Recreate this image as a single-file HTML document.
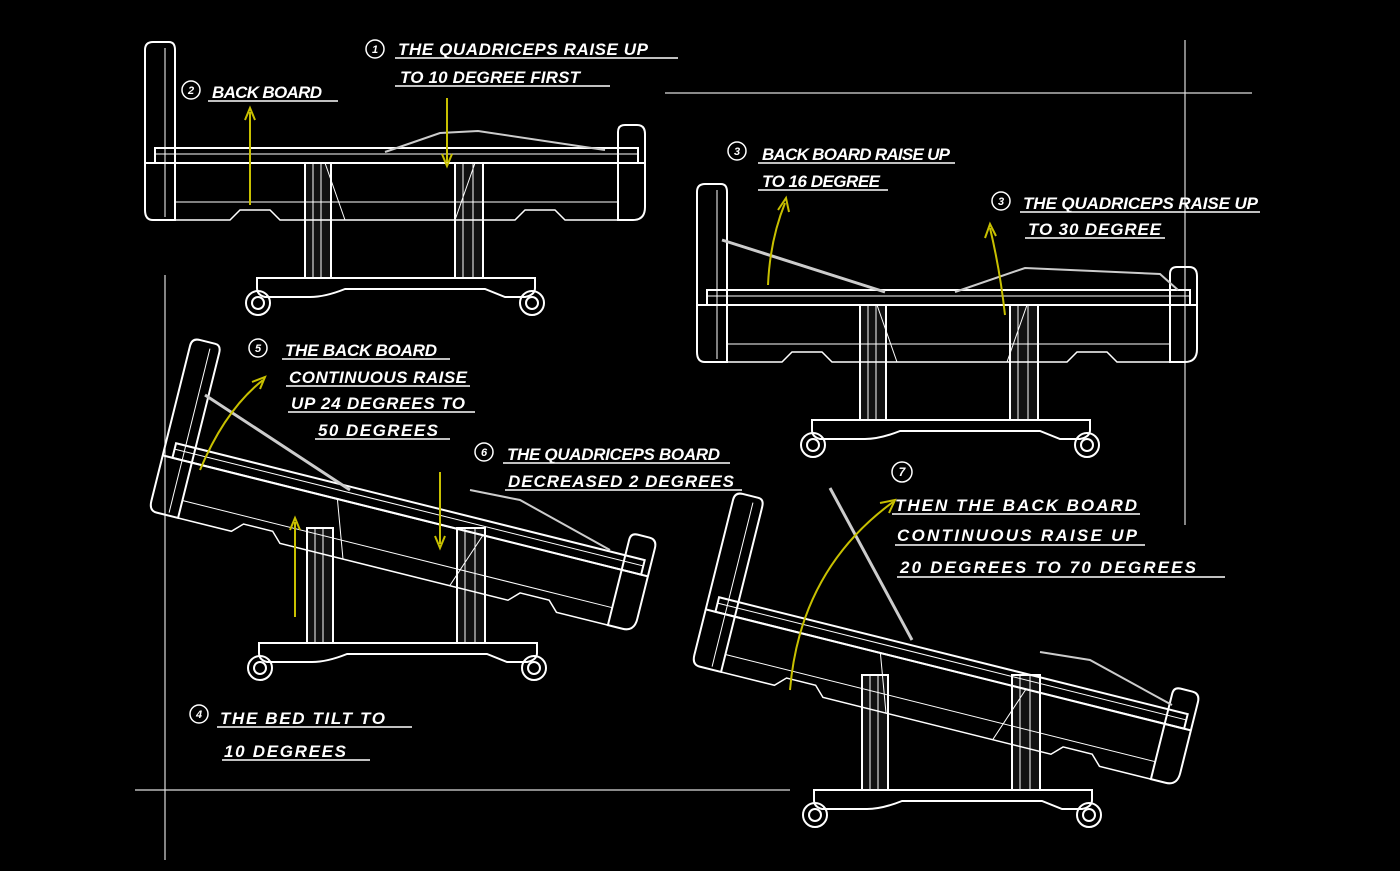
<!DOCTYPE html>
<html><head><meta charset="utf-8"><style>
html,body{margin:0;padding:0;background:#000;}
svg{display:block}
text{font-family:"Liberation Sans",sans-serif;font-weight:bold;font-style:italic;fill:#fff;font-size:17px;}
</style></head><body>
<svg width="1400" height="871" viewBox="0 0 1400 871" xmlns="http://www.w3.org/2000/svg">
<rect width="1400" height="871" fill="#000"/>
<defs>
<g id="bed" fill="none" stroke="#fff" stroke-width="2">
  <path d="M0,8 Q0,0 8,0 L24,0 Q30,0 30,8 L30,178 L8,178 Q0,178 0,168 Z"/>
  <line x1="20" y1="6" x2="20" y2="175" stroke-width="1"/>
  <rect x="10" y="106" width="483" height="15"/>
  <line x1="10" y1="112" x2="493" y2="112" stroke-width="1"/>
  <path d="M473,90 Q473,83 480,83 L492,83 Q500,83 500,92 L500,165 Q500,178 488,178 L473,178 Z"/>
  <line x1="0" y1="121" x2="500" y2="121"/>
  <line x1="30" y1="160" x2="473" y2="160" stroke-width="1"/>
  <path d="M30,178 L85,178 L95,168 L125,168 L135,178 L370,178 L380,168 L410,168 L420,178 L473,178" stroke-width="1.5"/>
  <line x1="180" y1="121" x2="200" y2="178" stroke-width="1"/>
  <line x1="330" y1="121" x2="310" y2="178" stroke-width="1"/>
</g>
<g id="stand" fill="none" stroke="#fff" stroke-width="2">
  <rect x="160" y="0" width="26" height="115" fill="#111"/>
  <line x1="168" y1="0" x2="168" y2="115" stroke-width="1"/><line x1="176" y1="0" x2="176" y2="115" stroke-width="1"/>
  <rect x="310" y="0" width="28" height="115" fill="#111"/>
  <line x1="318" y1="0" x2="318" y2="115" stroke-width="1"/><line x1="328" y1="0" x2="328" y2="115" stroke-width="1"/>
  <path d="M112,115 L390,115 L390,125 Q390,132 380,134 L360,134 Q350,130 340,126 L200,126 Q180,134 165,134 L120,134 Q112,132 112,125 Z"/>
  <circle cx="113" cy="140" r="12"/><circle cx="113" cy="140" r="6"/>
  <circle cx="387" cy="140" r="12"/><circle cx="387" cy="140" r="6"/>
</g>
</defs>
<!-- guide lines -->
<g stroke="#ddd" stroke-width="1.2">
<line x1="1185" y1="40" x2="1185" y2="525"/>
<line x1="665" y1="93" x2="1252" y2="93"/>
<line x1="165" y1="275" x2="165" y2="860"/>
<line x1="135" y1="790" x2="790" y2="790"/>
</g>
<!-- bed 1 -->
<use href="#stand" x="145" y="163"/>
<use href="#bed" x="145" y="42"/>
<polyline points="385,152 440,133 478,131 605,150" fill="none" stroke="#ccc" stroke-width="2"/>
<!-- bed 2 -->
<use href="#stand" x="700" y="305"/>
<use href="#bed" x="697" y="184"/>
<polyline points="722,240 885,292" fill="none" stroke="#ccc" stroke-width="3"/>
<polyline points="955,292 1025,268 1160,274 1178,290" fill="none" stroke="#ccc" stroke-width="2"/>
<!-- bed 3 -->
<use href="#stand" x="147" y="528"/>
<g transform="translate(192,338) rotate(14)"><use href="#bed"/></g>
<polyline points="205,395 350,490" fill="none" stroke="#ccc" stroke-width="3"/>
<polyline points="470,490 520,500 610,550" fill="none" stroke="#ccc" stroke-width="2"/>
<!-- bed 4 -->
<use href="#stand" x="702" y="675"/>
<g transform="translate(735,492) rotate(14)"><use href="#bed"/></g>
<polyline points="830,488 912,640" fill="none" stroke="#ccc" stroke-width="3"/>
<polyline points="1040,652 1090,660 1172,705" fill="none" stroke="#ccc" stroke-width="2"/>
<!-- yellow arrows -->
<g stroke="#c8c000" stroke-width="2" fill="none">
<line x1="250" y1="205" x2="250" y2="112"/><polyline points="245,120 250,108 255,120"/>
<line x1="447" y1="98" x2="447" y2="162"/><polyline points="442,154 447,166 452,154"/>
<path d="M768,285 Q770,240 785,203"/><polyline points="778,210 786,198 789,212"/>
<path d="M1005,315 Q1000,270 990,228"/><polyline points="985,238 990,224 996,236"/>
<path d="M200,470 Q225,410 263,380"/><polyline points="252,382 265,377 260,389"/>
<line x1="295" y1="617" x2="295" y2="522"/><polyline points="290,530 295,518 300,530"/>
<line x1="440" y1="472" x2="440" y2="544"/><polyline points="435,536 440,548 445,536"/>
<path d="M790,690 Q800,570 893,502"/><polyline points="880,503 895,500 889,513"/>
</g>
<!-- labels -->
<g stroke="#fff" stroke-width="1.5">
<line x1="395" y1="58" x2="678" y2="58"/><line x1="395" y1="86" x2="610" y2="86"/>
<line x1="208" y1="101" x2="338" y2="101"/>
<line x1="758" y1="163" x2="955" y2="163"/><line x1="758" y1="190" x2="888" y2="190"/>
<line x1="1020" y1="212" x2="1260" y2="212"/><line x1="1025" y1="238" x2="1165" y2="238"/>
<line x1="282" y1="359" x2="450" y2="359"/><line x1="286" y1="386" x2="470" y2="386"/>
<line x1="288" y1="412" x2="475" y2="412"/><line x1="315" y1="439" x2="450" y2="439"/>
<line x1="503" y1="463" x2="730" y2="463"/><line x1="505" y1="490" x2="742" y2="490"/>
<line x1="892" y1="514" x2="1140" y2="514"/><line x1="895" y1="545" x2="1145" y2="545"/>
<line x1="897" y1="577" x2="1225" y2="577"/>
<line x1="217" y1="727" x2="412" y2="727"/><line x1="222" y1="760" x2="370" y2="760"/>
</g>
<g fill="none" stroke="#fff" stroke-width="1.5">
<circle cx="375" cy="49" r="9"/><circle cx="191" cy="90" r="9"/><circle cx="737" cy="151" r="9"/>
<circle cx="1001" cy="201" r="9"/><circle cx="258" cy="348" r="9"/><circle cx="484" cy="452" r="9"/>
<circle cx="902" cy="472" r="10"/><circle cx="199" cy="714" r="9"/>
</g>
<g font-size="11" text-anchor="middle" style="font-size:11px">
<text x="375" y="53" style="font-size:11px">1</text><text x="191" y="94" style="font-size:11px">2</text>
<text x="737" y="155" style="font-size:11px">3</text><text x="1001" y="205" style="font-size:11px">3</text>
<text x="258" y="352" style="font-size:11px">5</text><text x="484" y="456" style="font-size:11px">6</text>
<text x="902" y="476" style="font-size:12px">7</text><text x="199" y="718" style="font-size:11px">4</text>
</g>
<text x="398" y="55" textLength="250">THE QUADRICEPS RAISE UP</text>
<text x="400" y="83" textLength="180">TO 10 DEGREE FIRST</text>
<text x="212" y="98" textLength="110">BACK BOARD</text>
<text x="762" y="160" textLength="188">BACK BOARD RAISE UP</text>
<text x="762" y="187" textLength="118">TO 16 DEGREE</text>
<text x="1023" y="209" textLength="235">THE QUADRICEPS RAISE UP</text>
<text x="1028" y="235" textLength="133">TO 30 DEGREE</text>
<text x="285" y="356" textLength="152">THE BACK BOARD</text>
<text x="289" y="383" textLength="178">CONTINUOUS RAISE</text>
<text x="291" y="409" textLength="174">UP 24 DEGREES TO</text>
<text x="318" y="436" textLength="120">50 DEGREES</text>
<text x="507" y="460" textLength="213">THE QUADRICEPS BOARD</text>
<text x="508" y="487" textLength="226">DECREASED 2 DEGREES</text>
<text x="895" y="511" textLength="242">THEN THE BACK BOARD</text>
<text x="897" y="541" textLength="240">CONTINUOUS RAISE UP</text>
<text x="900" y="573" textLength="296">20 DEGREES TO 70 DEGREES</text>
<text x="220" y="724" textLength="165">THE BED TILT TO</text>
<text x="224" y="757" textLength="122">10 DEGREES</text>
</svg>
</body></html>
